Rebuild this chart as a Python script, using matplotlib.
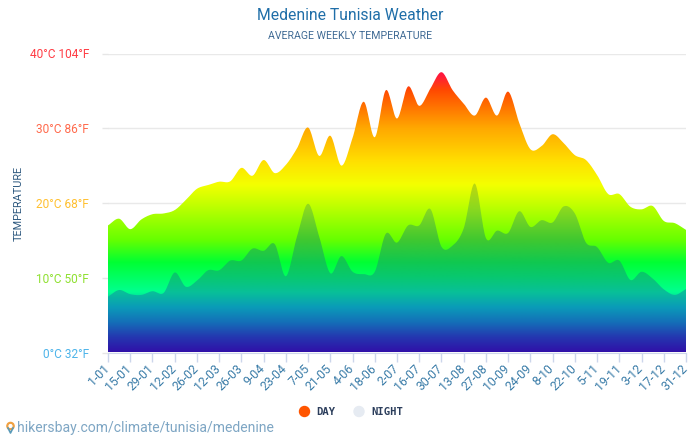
import numpy as np
import matplotlib
matplotlib.use("Agg")
import matplotlib.pyplot as plt
from matplotlib.colors import LinearSegmentedColormap
from matplotlib.patches import PathPatch, Circle
from matplotlib.path import Path
from matplotlib.transforms import ScaledTranslation

plt.rcParams['font.family'] = ['Roboto', 'DejaVu Sans']

# weekly averages, deg C
day = [17.0, 17.9, 16.5, 17.8, 18.5, 18.6, 19.05, 20.4, 21.9, 22.4, 22.85, 22.9, 24.7, 23.65,
       25.75, 24.0, 25.1, 27.3, 30.1, 26.3, 29.0, 25.0, 28.7, 33.55, 28.8, 35.1, 31.3, 35.6,
       33.0, 35.3, 37.5, 35.1, 33.3, 31.7, 34.1, 31.7, 34.9, 30.7, 27.2, 27.6, 29.2, 28.0,
       26.4, 25.75, 23.75, 21.2, 21.2, 19.5, 19.15, 19.6, 17.6, 17.3, 16.4]
night = [7.47, 8.36, 7.8, 7.7, 8.2, 7.96, 10.7, 8.8, 9.6, 11.0, 11.0, 12.3, 12.3, 13.9,
         13.6, 14.5, 10.2, 15.5, 19.9, 15.5, 10.6, 12.9, 10.8, 10.5, 10.8, 15.9, 14.7, 17.0,
         17.0, 19.2, 14.15, 14.3, 16.6, 22.6, 15.3, 16.3, 16.0, 18.9, 16.8, 17.7, 17.4, 19.55,
         18.6, 14.7, 14.1, 12.0, 12.3, 9.7, 10.8, 9.9, 8.45, 7.7, 8.5]
date_labels = ['1-01', '15-01', '29-01', '12-02', '26-02', '12-03', '26-03', '9-04', '23-04',
               '7-05', '21-05', '4-06', '18-06', '2-07', '16-07', '30-07', '13-08', '27-08',
               '10-09', '24-09', '8-10', '22-10', '5-11', '19-11', '3-12', '17-12', '31-12']
temp_ticks = [0, 10, 20, 30, 40]
temp_labels = ['0°C 32°F', '10°C 50°F', '20°C 68°F', '30°C 86°F', '40°C 104°F']
temp_colors = ['#4db4ea', '#8fe030', '#ffc030', '#ff6a4c', '#ff3c44']

day_stops = [(0, '#3010a8'), (2, '#2438b0'), (4, '#1470b8'), (6, '#0a9cb8'), (8, '#00ff90'),
             (12, '#00ff33'), (15, '#66ff00'), (20, '#c8ff00'), (22.4, '#f4ff00'), (25.5, '#ffe000'),
             (28, '#ffc000'), (30, '#ffa800'), (33, '#ff7000'), (35, '#ff4a00'), (37, '#ff1a3c'),
             (40, '#ff0050')]
night_stops = [(0, '#3010a8'), (2, '#2438b0'), (4, '#1470b8'), (6, '#0a9cb8'), (8, '#08c098'),
               (10, '#08c870'), (12, '#10c850'), (15, '#40c830'), (19, '#88d820'), (22, '#b8d810'),
               (40, '#c0c010')]


def make_cmap(stops):
    return LinearSegmentedColormap.from_list('g', [(t / 40, c) for t, c in stops], N=512)


def smooth(x, y, n=16):
    # catmull-rom through the weekly values
    x = np.asarray(x, float)
    y = np.asarray(y, float)
    m = np.gradient(y, x)
    xs, ys = [], []
    for i in range(len(x) - 1):
        t = np.linspace(0, 1, n, endpoint=False)
        h = x[i + 1] - x[i]
        ys.append((2*t**3 - 3*t**2 + 1) * y[i] + (t**3 - 2*t**2 + t) * h * m[i]
                  + (-2*t**3 + 3*t**2) * y[i + 1] + (t**3 - t**2) * h * m[i + 1])
        xs.append(x[i] + t * h)
    return np.r_[np.concatenate(xs), x[-1]], np.r_[np.concatenate(ys), y[-1]]


def gradient_area(ax, x, y, cmap, zorder):
    sx, sy = smooth(x, y)
    verts = np.r_[[[sx[0], 0]], np.c_[sx, sy], [[sx[-1], 0]]]
    patch = PathPatch(Path(verts), fc='none', ec='none', transform=ax.transData)
    ax.add_patch(patch)
    grad = np.linspace(1, 0, 512).reshape(-1, 1)
    im = ax.imshow(grad, cmap=cmap, vmin=0, vmax=1, aspect='auto',
                   extent=(x[0], x[-1], 0, 40), zorder=zorder, interpolation='bilinear')
    im.set_clip_path(patch)


fig = plt.figure(figsize=(7, 4.37), dpi=100)
W, H = 700, 437
ax = fig.add_axes([108 / W, 1 - 352.5 / H, 578 / W, 299 / H])

weeks = np.arange(len(day))
gradient_area(ax, weeks, day, make_cmap(day_stops), 2)
gradient_area(ax, weeks, night, make_cmap(night_stops), 3)

ax.set_xlim(0, len(day) - 1)
ax.set_ylim(0, 40)
for s in ax.spines.values():
    s.set_visible(False)
ax.spines['bottom'].set_visible(True)
ax.spines['bottom'].set_color('#ccd6eb')
ax.spines['bottom'].set_zorder(5)

ax.set_yticks(temp_ticks)
ax.set_yticklabels(temp_labels, fontsize=8.6)
for lab, c in zip(ax.get_yticklabels(), temp_colors):
    lab.set_color(c)
ax.tick_params(axis='y', length=4.3, color='#e6e6e6', width=1, pad=9.4)
ax.yaxis.grid(True, color='#e9e9e9', lw=1, zorder=0)
ax.set_axisbelow(True)

ax.set_xticks(weeks[::2])
ax.set_xticklabels(date_labels, rotation=45, ha='right', rotation_mode='anchor',
                   fontsize=8.8, color='#3a7ca8')
ax.tick_params(axis='x', length=6.5, color='#ccd6eb', width=1, pad=0.5)
shift = ScaledTranslation(-5 / 100, 0, fig.dpi_scale_trans)
for lab in ax.get_xticklabels():
    lab.set_transform(lab.get_transform() + shift)

fig.text(350 / W, 1 - 15.5 / H, 'Medenine Tunisia Weather', ha='center', va='center',
         fontsize=11.3, color='#1f6ea8')
fig.text(350 / W, 1 - 36 / H, 'AVERAGE WEEKLY TEMPERATURE', ha='center', va='center',
         fontsize=7.6, color='#3f6a94')
fig.text(19 / W, 1 - 203 / H, 'TEMPERATURE', rotation=90, ha='center', va='center',
         fontsize=7.8, color='#2f5a80')

# legend
bg = fig.add_axes([0, 0, 1, 1], zorder=-1)
bg.set_xlim(0, W)
bg.set_ylim(H, 0)
bg.axis('off')
bg.add_patch(Circle((304.5, 411.5), 5, color='#ff5500'))
bg.add_patch(Circle((359, 411.5), 5, color='#e6ebf2'))
bg.text(316, 412, 'DAY', family='DejaVu Sans Mono', weight='bold', fontsize=7.6, va='center', color='#2c3e5c')
bg.text(371, 412, 'NIGHT', family='DejaVu Sans Mono', weight='bold', fontsize=7.6, va='center', color='#2c3e5c')

# source line with pin
bg.add_patch(Circle((10.5, 426), 3.6, color='#f0a040'))
bg.add_patch(Circle((10.5, 426), 1.4, color='white', zorder=3))
bg.plot([8, 10.5, 13], [428, 433, 428], color='#5a9ab8', lw=1.2)
bg.text(17.5, 428, 'hikersbay.com/climate/tunisia/medenine', fontsize=10.05, va='center', color='#7ea6c4')

fig.savefig('out.png', dpi=100)
